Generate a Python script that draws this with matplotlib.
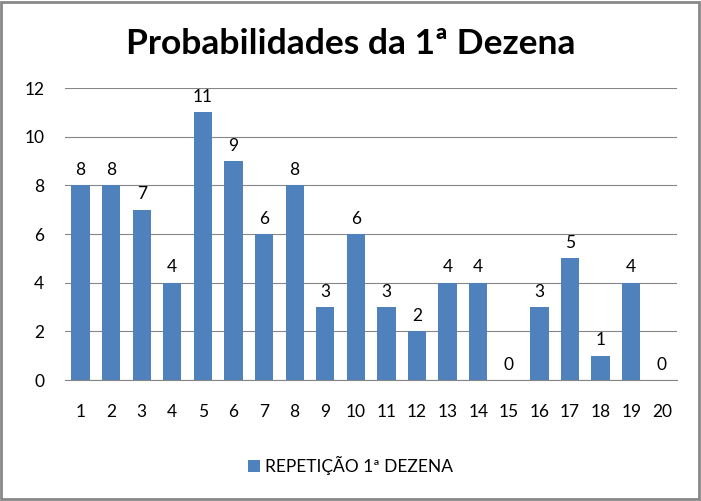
import matplotlib.pyplot as plt
import numpy as np

plt.rcParams['font.family'] = ['Lato', 'DejaVu Sans']

dezenas = [str(i) for i in range(1, 21)]
repeticoes = [8, 8, 7, 4, 11, 9, 6, 8, 3, 6, 3, 2, 4, 4, 0, 3, 5, 1, 4, 0]

fig = plt.figure(figsize=(7.01, 5.01), dpi=100)
ax = fig.add_axes([0.093, 0.2415, 0.873, 0.5825])

x = np.arange(len(dezenas))
bars = ax.bar(x, repeticoes, width=0.6, color='#4F81BD', label='REPETIÇÃO 1ª DEZENA', zorder=3)

for xi, v in zip(x, repeticoes):
    ax.text(xi, v + 0.3, str(v), ha='center', va='bottom', fontsize=12.5)

ax.set_xlim(-0.5, len(dezenas) - 0.5)
ax.set_ylim(0, 12)
ax.set_yticks(range(0, 13, 2))
ax.set_xticks(x)
ax.set_xticklabels(dezenas)
ax.tick_params(axis='both', length=0, labelsize=12.5)
ax.tick_params(axis='x', pad=17)
ax.tick_params(axis='y', pad=15)
ax.yaxis.grid(True, color='#868686', linewidth=0.8, zorder=0)
for s in ['top', 'right', 'left']:
    ax.spines[s].set_visible(False)
ax.spines['bottom'].set_color('#868686')
ax.spines['bottom'].set_zorder(4)

fig.text(0.5, 0.912, 'Probabilidades da 1ª Dezena', ha='center', va='center',
         fontsize=25.5, fontweight='bold')

fig.legend(handles=[bars], labels=['REPETIÇÃO 1ª DEZENA'], loc='center',
           bbox_to_anchor=(0.5, 0.07), frameon=False, fontsize=12.5,
           handlelength=0.7, handleheight=0.7, handletextpad=0.3)

fig.patches.append(plt.Rectangle((0.002, 0.004), 0.995, 0.993, transform=fig.transFigure,
                                 fill=False, edgecolor='#888888', linewidth=2))

fig.savefig('out.png', dpi=100)
